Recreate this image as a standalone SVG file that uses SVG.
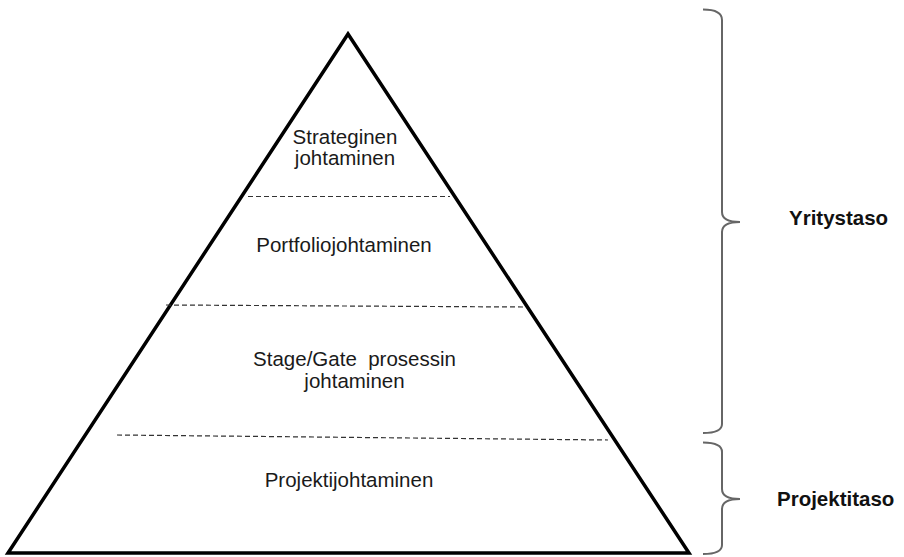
<svg xmlns="http://www.w3.org/2000/svg" width="904" height="557" viewBox="0 0 904 557">
<style>
.lbl{font-family:"Liberation Sans",Arial,sans-serif;font-size:20.5px;fill:#1a1a1a;text-anchor:middle}
.side{font-family:"Liberation Sans",Arial,sans-serif;font-size:20.5px;font-weight:bold;fill:#111}
.dash{stroke:#333;stroke-width:1.2;stroke-dasharray:5 3;fill:none}
.brace{stroke:#666;stroke-width:2;fill:none}
</style>
<rect width="904" height="557" fill="#fff"/>
<g id="pyramid">
<polygon points="348,34 8,553 689,553" fill="none" stroke="#000" stroke-width="3.5" stroke-linejoin="miter"/>
</g>
<g id="connectors">
<line class="dash" x1="248" y1="196.5" x2="450" y2="196.5"/>
<line class="dash" x1="166" y1="305" x2="523" y2="307"/>
<line class="dash" x1="117" y1="435" x2="608" y2="440"/>
<path class="brace" d="M703,9.5 Q722,9.5 722,20 L722,212 Q722,222 740,222 Q722,222 722,232 L722,424 Q722,433 703,433"/>
<path class="brace" d="M703,442.5 Q722,442.5 722,452 L722,489 Q722,499 740,499 Q722,499 722,509 L722,545 Q722,554 703,554"/>
</g>
<g id="strateginen">
<text class="lbl" x="345" y="144">Strateginen</text>
<text class="lbl" x="345" y="165">johtaminen</text>
</g>
<g id="portfolio">
<text class="lbl" x="344" y="252">Portfoliojohtaminen</text>
</g>
<g id="stagegate">
<text class="lbl" x="354.5" y="366" xml:space="preserve">Stage/Gate  prosessin</text>
<text class="lbl" x="354.5" y="388">johtaminen</text>
</g>
<g id="projekti">
<text class="lbl" x="349" y="487">Projektijohtaminen</text>
</g>
<g id="yritystaso">
<text class="side" x="789" y="225">Yritystaso</text>
</g>
<g id="projektitaso">
<text class="side" x="777" y="506">Projektitaso</text>
</g>
</svg>
